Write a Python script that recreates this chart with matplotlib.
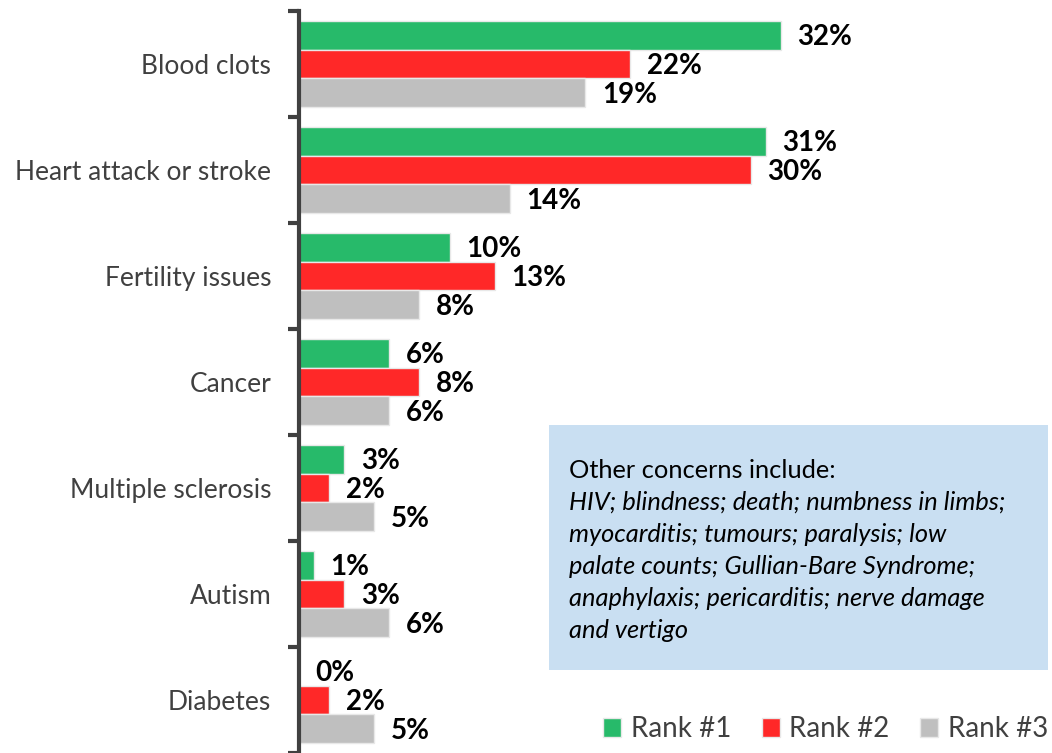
import matplotlib
matplotlib.use("Agg")
import matplotlib.pyplot as plt
from matplotlib.patches import Patch

categories = ["Blood clots", "Heart attack or stroke", "Fertility issues", "Cancer",
              "Multiple sclerosis", "Autism", "Diabetes"]
rank1 = [32, 31, 10, 6, 3, 1, 0]
rank2 = [22, 30, 13, 8, 2, 3, 2]
rank3 = [19, 14, 8, 6, 5, 6, 5]
series_names = ["Rank #1", "Rank #2", "Rank #3"]
colors = ["#27BA6A", "#FF2828", "#BFBFBF"]

plt.rcParams['font.family'] = ['Lato', 'DejaVu Sans']

fig = plt.figure(figsize=(10.52, 7.53), dpi=100)
ax = fig.add_axes([299/1052, 0, 753/1052, (753-11)/753])

h = 0.272
offs = [-h, 0, h]
for vals, off, c in zip([rank1, rank2, rank3], offs, colors):
    ys = [i + off for i in range(len(categories))]
    ax.barh(ys, vals, height=h, color=c, edgecolor="#E8E8E8", linewidth=1)
    for y, v in zip(ys, vals):
        ax.text(v + 1.1, y + 0.02, f"{v}%", va="center", ha="left",
                fontsize=20, fontweight="bold", color="black")

ax.set_xlim(0, 50)
ax.set_ylim(6.5, -0.5)
ax.set_yticks(range(len(categories)))
ax.set_yticklabels(categories, fontsize=19, color="#404040")
ax.tick_params(axis="y", length=0, pad=20)
ax.set_yticks([i - 0.5 for i in range(len(categories) + 1)], minor=True)
ax.tick_params(axis="y", which="minor", length=8, width=3, color="#404040")
ax.set_xticks([])
for s in ["top", "right", "bottom"]:
    ax.spines[s].set_visible(False)
ax.spines["left"].set_linewidth(3)
ax.spines["left"].set_color("#404040")

# text box
fig.patches.append(plt.Rectangle((549/1052, 1 - 670/753), (1048-549)/1052, (670-425)/753,
                                 transform=fig.transFigure, facecolor="#C9DFF2",
                                 edgecolor="none", zorder=5))
fig.text(569/1052, 1 - 470/753, "Other concerns include:", fontsize=18.3,
         color="black", va="center", ha="left", zorder=6)
lines = ["HIV; blindness; death; numbness in limbs;",
         "myocarditis; tumours; paralysis; low",
         "palate counts; Gullian-Bare Syndrome;",
         "anaphylaxis; pericarditis; nerve damage",
         "and vertigo"]
for k, ln in enumerate(lines):
    fig.text(569/1052, 1 - (502 + 32*k)/753, ln, fontsize=18.3, style="italic",
             color="black", va="center", ha="left", zorder=6)

handles = [Patch(facecolor=c, edgecolor="#E8E8E8") for c in colors]
leg = fig.legend(handles, series_names, loc="center left", bbox_to_anchor=(603/1052, 1 - 729/753),
                 ncol=3, frameon=False, fontsize=20, handlelength=0.65, handleheight=0.65,
                 handletextpad=0.35, columnspacing=1.1, labelcolor="#404040",
                 borderpad=0, borderaxespad=0)

fig.savefig("out.png", dpi=100)
